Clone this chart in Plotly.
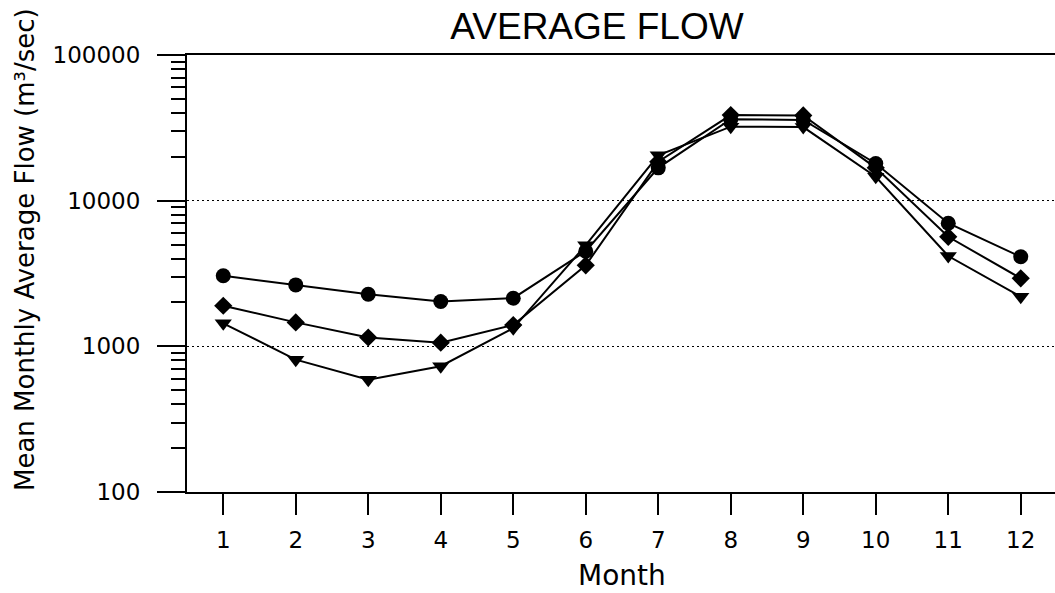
import plotly.graph_objects as go

months = [1, 2, 3, 4, 5, 6, 7, 8, 9, 10, 11, 12]
flow_circle = [3050, 2640, 2280, 2030, 2140, 4500, 16800, 36200, 35800, 18000, 7000, 4120]
flow_diamond = [1900, 1460, 1150, 1060, 1400, 3600, 18500, 38700, 38500, 16800, 5650, 2930]
flow_triangle = [1440, 810, 590, 730, 1330, 4950, 20500, 32200, 32000, 14600, 4170, 2190]

y_tickvals = [100, 1000, 10000, 100000]
y_ticktext = ["100", "1000", "10000", "100000"]

W, H = 1062, 593
L, R, T, B = 187, 0, 55, 593 - 492
pw, ph = W - L - R, H - T - B
x_step = 72.5
x_range = [0.5, 0.5 + pw / x_step]

def px_x(sx):
    return (sx - L) / pw

def px_y(sy):
    return (H - B - sy) / ph

fig = go.Figure()
series = [
    (flow_circle, "circle", 15),
    (flow_diamond, "diamond", 14),
    (flow_triangle, "triangle-down", 15),
]
for vals, sym, sz in series:
    fig.add_trace(go.Scatter(
        x=months, y=vals, mode="lines+markers",
        line=dict(color="black", width=2),
        marker=dict(symbol=sym, size=sz, color="black"),
        showlegend=False,
    ))

tickfont = dict(family="DejaVu Sans", size=23, color="black")
fig.update_layout(
    width=W, height=H,
    margin=dict(l=L, r=R, t=T, b=B, autoexpand=False),
    paper_bgcolor="white", plot_bgcolor="white",
    title=dict(text="AVERAGE FLOW", x=597 / W, xanchor="center", xref="container",
               y=1 - 26 / H, yanchor="middle", yref="container",
               font=dict(family="Liberation Sans", size=37, color="black")),
    xaxis=dict(
        range=x_range, tickvals=months, ticktext=[str(m) for m in months],
        showline=True, linecolor="black", linewidth=2, mirror=True,
        ticks="outside", ticklen=21, tickwidth=2, tickcolor="black",
        ticklabelstandoff=5,
        showgrid=False, zeroline=False, tickfont=tickfont, automargin=False,
    ),
    yaxis=dict(
        type="log", range=[2, 5], tickvals=y_tickvals, ticktext=y_ticktext,
        showline=True, linecolor="black", linewidth=2,
        ticks="outside", ticklen=28, tickwidth=2, tickcolor="black",
        ticklabelstandoff=12, automargin=False,
        minor=dict(ticks="outside", ticklen=14, tickwidth=2, tickcolor="black", dtick="D1", showgrid=False),
        showgrid=True, gridcolor="black", gridwidth=1, griddash="2px,3px",
        zeroline=False, tickfont=tickfont,
    ),
    annotations=[
        dict(text="Mean Monthly Average Flow (m³/sec)", textangle=-90,
             xref="paper", yref="paper", x=px_x(25), y=px_y(250),
             xanchor="center", yanchor="middle", showarrow=False,
             font=dict(family="DejaVu Sans", size=26, color="black")),
        dict(text="Month", xref="paper", yref="paper",
             x=px_x(622), y=px_y(575),
             xanchor="center", yanchor="middle", showarrow=False,
             font=dict(family="DejaVu Sans", size=28, color="black")),
    ],
)

fig.write_html(
    "out.html",
    config={"displayModeBar": False},
    post_script="document.body.style.margin='0';document.body.style.overflow='hidden';",
)
